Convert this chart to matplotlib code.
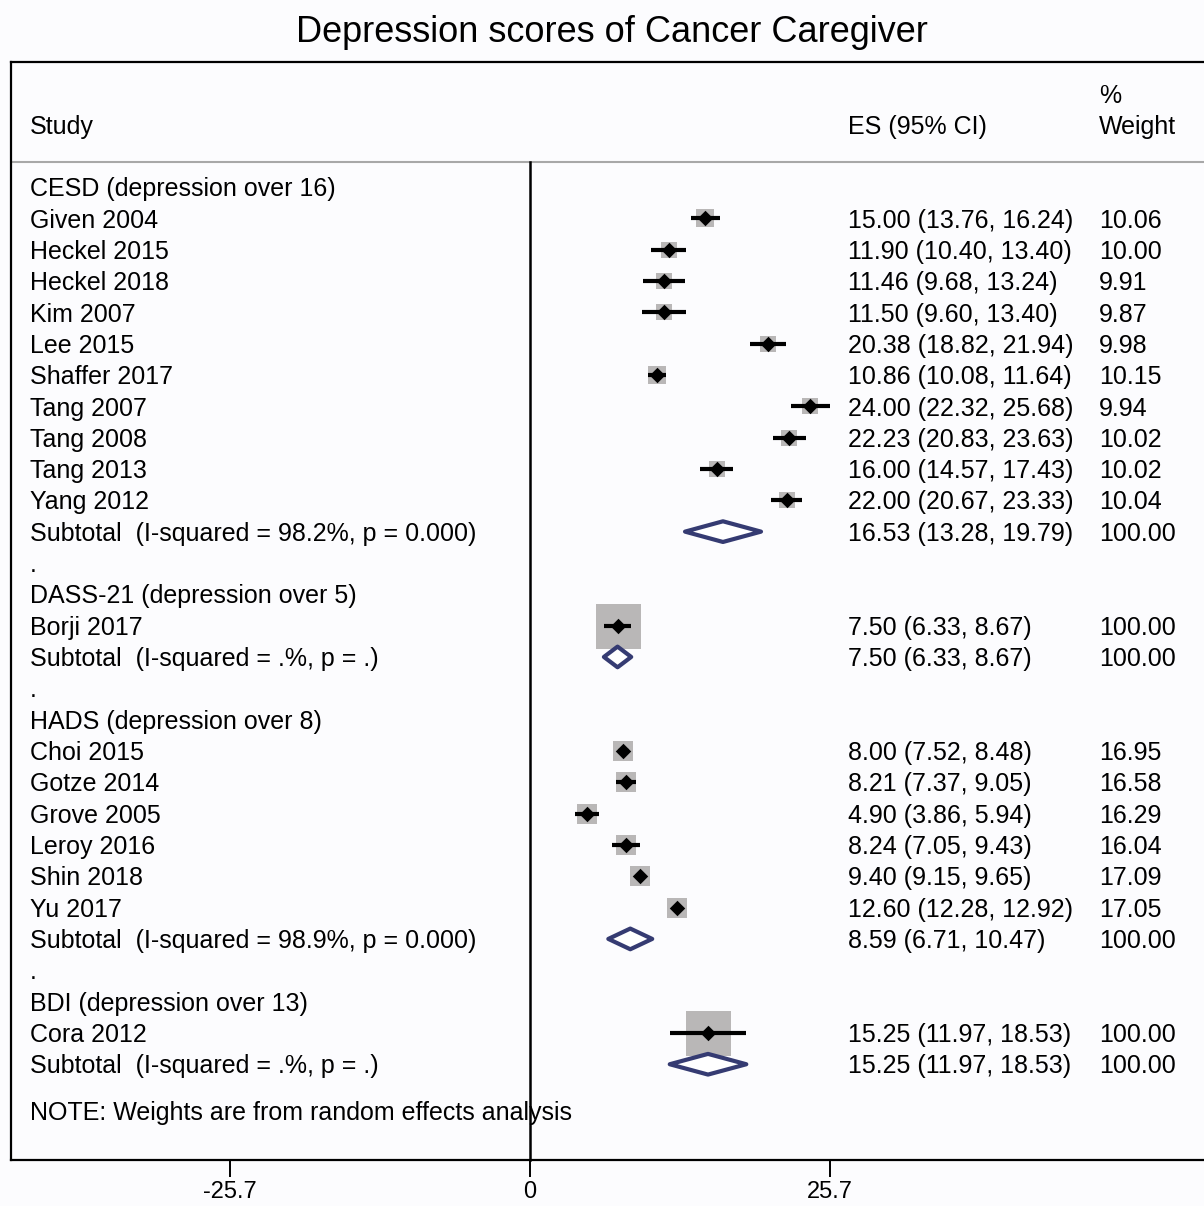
import matplotlib.pyplot as plt
from matplotlib.patches import Polygon

plt.rcParams['font.family'] = ['Liberation Sans', 'DejaVu Sans']

# study data per scale
group_titles = ["CESD (depression over 16)", "DASS-21 (depression over 5)",
                "HADS (depression over 8)", "BDI (depression over 13)"]

cesd_names = ["Given 2004", "Heckel 2015", "Heckel 2018", "Kim 2007", "Lee 2015",
              "Shaffer 2017", "Tang 2007", "Tang 2008", "Tang 2013", "Yang 2012"]
cesd_es = [15.00, 11.90, 11.46, 11.50, 20.38, 10.86, 24.00, 22.23, 16.00, 22.00]
cesd_lo = [13.76, 10.40, 9.68, 9.60, 18.82, 10.08, 22.32, 20.83, 14.57, 20.67]
cesd_hi = [16.24, 13.40, 13.24, 13.40, 21.94, 11.64, 25.68, 23.63, 17.43, 23.33]
cesd_w = [10.06, 10.00, 9.91, 9.87, 9.98, 10.15, 9.94, 10.02, 10.02, 10.04]

dass_names = ["Borji 2017"]
dass_es = [7.50]
dass_lo = [6.33]
dass_hi = [8.67]
dass_w = [100.00]

hads_names = ["Choi 2015", "Gotze 2014", "Grove 2005", "Leroy 2016", "Shin 2018", "Yu 2017"]
hads_es = [8.00, 8.21, 4.90, 8.24, 9.40, 12.60]
hads_lo = [7.52, 7.37, 3.86, 7.05, 9.15, 12.28]
hads_hi = [8.48, 9.05, 5.94, 9.43, 9.65, 12.92]
hads_w = [16.95, 16.58, 16.29, 16.04, 17.09, 17.05]

bdi_names = ["Cora 2012"]
bdi_es = [15.25]
bdi_lo = [11.97]
bdi_hi = [18.53]
bdi_w = [100.00]

# pooled estimate, lower, upper, I-squared text, p text
sub_es = [16.53, 7.50, 8.59, 15.25]
sub_lo = [13.28, 6.33, 6.71, 11.97]
sub_hi = [19.79, 8.67, 10.47, 18.53]
sub_i2 = ["98.2%", ".%", "98.9%", ".%"]
sub_p = ["0.000", ".", "0.000", "."]

tick_vals = [-25.7, 0, 25.7]

groups = [
    (cesd_names, cesd_es, cesd_lo, cesd_hi, cesd_w),
    (dass_names, dass_es, dass_lo, dass_hi, dass_w),
    (hads_names, hads_es, hads_lo, hads_hi, hads_w),
    (bdi_names, bdi_es, bdi_lo, bdi_hi, bdi_w),
]

W, H = 1204, 1206
fig = plt.figure(figsize=(W / 100, H / 100), dpi=100)
bg = '#fcfcfe'
fig.patch.set_facecolor(bg)

ax_left, ax_right, ax_top, ax_bot = 11, 1204, 62, 1160
ax = fig.add_axes([ax_left / W, 1 - ax_bot / H, (ax_right - ax_left) / W, (ax_bot - ax_top) / H])
ax.set_facecolor(bg)

px_per_unit = 300 / 25.7
zero_px = 530
row_px = 31.33
row0_px = 187
xmin = (ax_left - zero_px) / px_per_unit
xmax = (ax_right - zero_px) / px_per_unit
ytop = (ax_top - row0_px) / row_px
ybot = (ax_bot - row0_px) / row_px
ax.set_xlim(xmin, xmax)
ax.set_ylim(ybot, ytop)

fs = 18
dy = 0.07  # nudge text down a little so it sits on the row centre
col_study = (30 - ax_left) / (ax_right - ax_left)
col_es = (848 - ax_left) / (ax_right - ax_left)
col_w = (1099 - ax_left) / (ax_right - ax_left)
tr = ax.get_yaxis_transform()  # x in axes fraction, y in data


def put(x, y, s):
    ax.text(x, y + dy, s, transform=tr, fontsize=fs, va='center')


navy = '#353b72'
boxc = '#b9b7b7'

header_y = (162 - row0_px) / row_px
put(col_study, -2.0, "Study")
put(col_es, -2.0, "ES (95% CI)")
put(col_w, -2.0, "Weight")
put(col_w, -2.98, "%")
ax.axhline(header_y, color='#a8a8a8', lw=1.5)

row = 0
for gi, (names, es, lo, hi, w) in enumerate(groups):
    if gi > 0:
        put(col_study, row, ".")
        row += 1
    put(col_study, row, group_titles[gi])
    row += 1
    for n, e, l, h, wt in zip(names, es, lo, hi, w):
        side = 4 + 4.1 * wt ** 0.5
        ax.scatter([e], [row], marker='s', s=(side * 0.72) ** 2, color=boxc, lw=0, zorder=2)
        ax.hlines(row, l, h, color='black', lw=3.0, zorder=3)
        ax.scatter([e], [row], marker='D', s=62, color='black', lw=0, zorder=4)
        put(col_study, row, n)
        put(col_es, row, f"{e:.2f} ({l:.2f}, {h:.2f})")
        put(col_w, row, f"{wt:.2f}")
        row += 1
    e, l, h = sub_es[gi], sub_lo[gi], sub_hi[gi]
    dh = 0.33
    ax.add_patch(Polygon([(l, row), (e, row - dh), (h, row), (e, row + dh)], closed=True,
                         facecolor='white', edgecolor=navy, lw=3.0, joinstyle='round', zorder=3))
    put(col_study, row, f"Subtotal  (I-squared = {sub_i2[gi]}, p = {sub_p[gi]})")
    put(col_es, row, f"{e:.2f} ({l:.2f}, {h:.2f})")
    put(col_w, row, "100.00")
    row += 1

put(col_study, row + 0.5, "NOTE: Weights are from random effects analysis")

# null line from header to the axis
ax.plot([0, 0], [header_y, ybot], color='black', lw=1.8, zorder=5, clip_on=False)

for side in ['left', 'top', 'bottom']:
    ax.spines[side].set_linewidth(1.6)
    ax.spines[side].set_color('black')
ax.spines['right'].set_visible(False)
ax.set_yticks([])
ax.set_xticks(tick_vals)
ax.set_xticklabels(["-25.7", "0", "25.7"], fontsize=17)
ax.tick_params(axis='x', direction='out', length=12, width=1.4, pad=3)

fig.text(612 / W, 1 - 32 / H, "Depression scores of Cancer Caregiver", fontsize=26,
         ha='center', va='center')

fig.savefig("out.png", dpi=100, facecolor=bg)
